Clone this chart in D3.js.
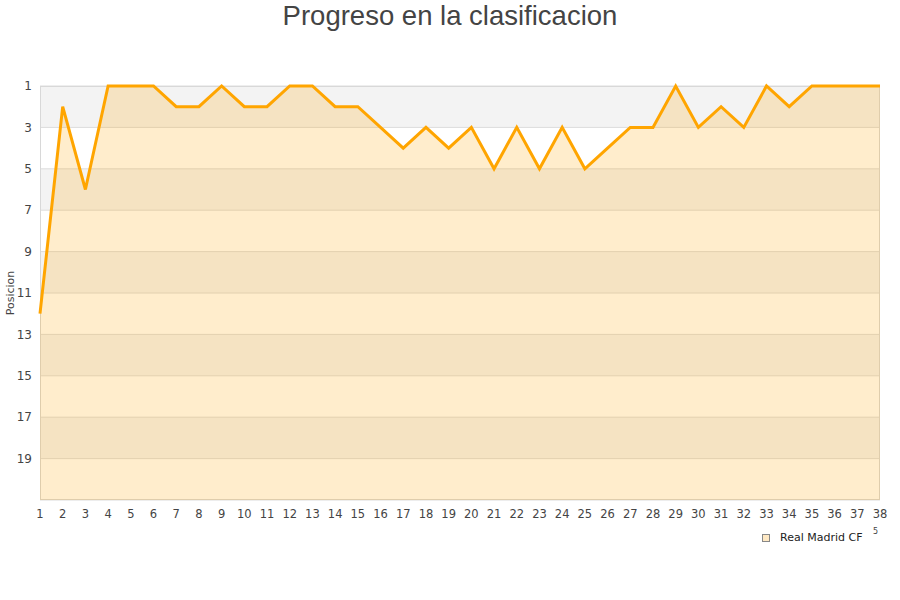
<!DOCTYPE html>
<html><head><meta charset="utf-8">
<script src="https://cdn.jsdelivr.net/npm/d3@7"></script>
<style>body{margin:0;background:#fff;} svg{display:block;font-family:"DejaVu Sans",sans-serif;}</style>
</head><body>
<svg id="c" width="900" height="600"></svg>
<script>
const matchdays = d3.range(1, 39);
const positions = [12,2,6,1,1,1,2,2,1,2,2,1,1,2,2,3,4,3,4,3,5,3,5,3,5,4,3,3,1,3,2,3,1,2,1,1,1,1];
const yTicks = [1,3,5,7,9,11,13,15,17,19];
const seriesName = "Real Madrid CF";
const title = "Progreso en la clasificacion";
const yTitle = "Posicion";

const svg = d3.select("#c");
const L = 40, R = 880, T = 86, B = 500;
const x = d3.scaleLinear().domain([1, 38]).range([L, R]);
const y = d3.scaleLinear().domain([1, 21]).range([T, B]);

// bands
const bands = d3.range(1, 21, 2);
svg.append("g").selectAll("rect").data(bands).join("rect")
  .attr("x", L).attr("width", R - L)
  .attr("y", d => y(d)).attr("height", d => y(d + 2) - y(d))
  .attr("fill", (d, i) => i % 2 === 0 ? "#f3f3f3" : "#ffffff");

// grid lines
svg.append("g").selectAll("line").data(yTicks.concat([21])).join("line")
  .attr("x1", L).attr("x2", R)
  .attr("y1", d => y(d)).attr("y2", d => y(d))
  .attr("stroke", "#dcdcdc").attr("stroke-width", 1);

// plot border
svg.append("rect").attr("x", L + 0.5).attr("y", T + 0.5).attr("width", R - L - 1).attr("height", B - T - 1)
  .attr("fill", "none").attr("stroke", "#d8d8d8");

// area
const area = d3.area().x((d, i) => x(matchdays[i])).y0(B).y1(d => y(d));
svg.append("path").datum(positions).attr("d", area).attr("fill", "rgba(255,165,0,0.2)");

// line
const line = d3.line().x((d, i) => x(matchdays[i])).y(d => y(d));
svg.append("path").datum(positions).attr("d", line)
  .attr("fill", "none").attr("stroke", "#ffa500").attr("stroke-width", 3).attr("stroke-linejoin", "miter");

// y axis labels
svg.append("g").selectAll("text").data(yTicks).join("text")
  .attr("x", 32).attr("y", d => y(d)).attr("dy", "0.35em")
  .attr("text-anchor", "end").attr("font-size", 12).attr("fill", "#444")
  .text(d => d);

// x axis labels
svg.append("g").selectAll("text").data(matchdays).join("text")
  .attr("x", d => x(d)).attr("y", 518)
  .attr("text-anchor", "middle").attr("font-size", 11.5).attr("fill", "#444")
  .text(d => d);

// y title
svg.append("text").attr("transform", `translate(14,${(T + B) / 2}) rotate(-90)`)
  .attr("text-anchor", "middle").attr("font-size", 11).attr("fill", "#444").text(yTitle);

// title
svg.append("text").attr("x", 450).attr("y", 25).attr("text-anchor", "middle")
  .attr("font-family", "Liberation Sans, Arial, sans-serif").attr("font-size", 27.5).attr("fill", "#444")
  .text(title);

// legend
svg.append("rect").attr("x", 762.5).attr("y", 534.5).attr("width", 7).attr("height", 7)
  .attr("fill", "#ffe9c4").attr("stroke", "#888").attr("stroke-width", 1);
svg.append("text").attr("x", 780).attr("y", 541).attr("font-size", 11).attr("fill", "#222").text(seriesName);
svg.append("text").attr("x", 873).attr("y", 534).attr("font-size", 8).attr("fill", "#444").text("5");
</script>
</body></html>
